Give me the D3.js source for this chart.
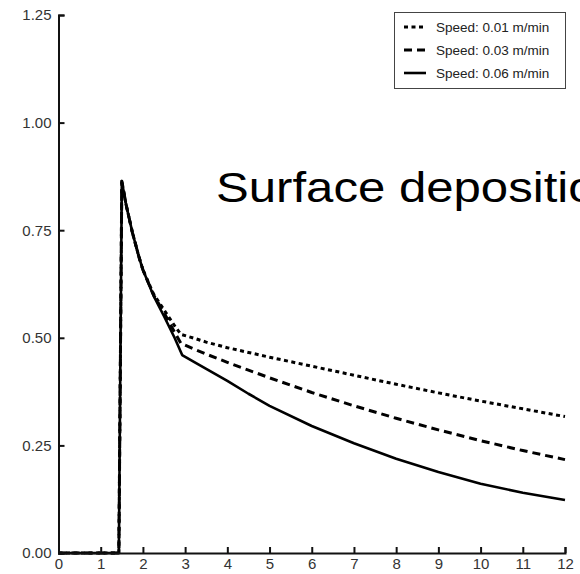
<!DOCTYPE html>
<html>
<head>
<meta charset="utf-8">
<script src="https://cdn.jsdelivr.net/npm/d3@7"></script>
<style>
  body { margin: 0; background: #fff; }
  svg { display: block; font-family: "Liberation Sans", Arial, sans-serif; }
</style>
</head>
<body>
<svg id="vis" width="580" height="574"></svg>
<script>
// data
const xDotted = [0, 1.43, 1.5, 1.6, 1.75, 1.9, 2.0, 2.25, 2.5, 2.75, 2.9, 3.25, 3.5, 4, 4.5, 5, 6, 7, 8, 9, 10, 11, 12];
const yDotted = [0, 0, 0.864, 0.81, 0.745, 0.69, 0.658, 0.602, 0.565, 0.528, 0.508, 0.498, 0.49, 0.477, 0.466, 0.455, 0.434, 0.413, 0.392, 0.372, 0.353, 0.335, 0.317];

const xDashed = [0, 1.43, 1.5, 1.6, 1.75, 1.9, 2.0, 2.25, 2.5, 2.75, 2.9, 3.25, 3.5, 4, 4.5, 5, 6, 7, 8, 9, 10, 11, 12];
const yDashed = [0, 0, 0.864, 0.81, 0.745, 0.69, 0.658, 0.6, 0.558, 0.513, 0.487, 0.472, 0.462, 0.443, 0.425, 0.407, 0.373, 0.342, 0.313, 0.286, 0.261, 0.238, 0.217];

const xSolid = [0, 1.43, 1.5, 1.6, 1.75, 1.9, 2.0, 2.25, 2.5, 2.75, 2.93, 3.25, 3.5, 4, 4.5, 5, 6, 7, 8, 9, 10, 11, 12];
const ySolid = [0, 0, 0.864, 0.81, 0.745, 0.69, 0.658, 0.598, 0.55, 0.5, 0.46, 0.442, 0.428, 0.4, 0.37, 0.342, 0.295, 0.255, 0.219, 0.188, 0.161, 0.14, 0.123];

const seriesNames = ["Speed: 0.01 m/min", "Speed: 0.03 m/min", "Speed: 0.06 m/min"];
const xTicks = [0, 1, 2, 3, 4, 5, 6, 7, 8, 9, 10, 11, 12];
const yTicks = [0, 0.25, 0.5, 0.75, 1.0, 1.25];
const titleText = "Surface deposition";

const svg = d3.select("#vis");

// SCALES
const x = d3.scaleLinear().domain([0, 12]).range([58.5, 565]);
const y = d3.scaleLinear().domain([0, 1.25]).range([553, 15]);

const styles = [
  { dash: "4,3.5", width: 3 },
  { dash: "8,5", width: 3 },
  { dash: null, width: 2.6 }
];

const series = [
  d3.zip(xDotted, yDotted),
  d3.zip(xDashed, yDashed),
  d3.zip(xSolid, ySolid)
];

// title (runs past the right edge, as in the picture)
svg.append("text")
  .attr("transform", "translate(216,202) scale(1.17,1)")
  .attr("font-size", 42)
  .attr("fill", "#000")
  .text(titleText);

const line = d3.line()
  .x(d => x(d[0]))
  .y(d => y(d[1]));

svg.selectAll("path.series")
  .data(series)
  .join("path")
  .attr("class", "series")
  .attr("d", line)
  .attr("fill", "none")
  .attr("stroke", "#000")
  .attr("stroke-linejoin", "round")
  .attr("stroke-width", (d, i) => styles[i].width)
  .attr("stroke-dasharray", (d, i) => styles[i].dash);

// axes - ticks point inward on both
const xAxis = d3.axisBottom(x).tickValues(xTicks).tickSize(-6).tickPadding(5).tickFormat(d3.format("d"));
const yAxis = d3.axisLeft(y).tickValues(yTicks).tickSize(-6).tickPadding(7).tickFormat(d3.format(".2f"));

const gx = svg.append("g")
  .attr("transform", `translate(0,${y(0)})`)
  .call(xAxis);

const gy = svg.append("g")
  .attr("transform", `translate(${x(0)},0)`)
  .call(yAxis);

[gx, gy].forEach(g => {
  g.select(".domain").attr("stroke", "#111").attr("stroke-width", 2);
  g.selectAll(".tick line").attr("stroke", "#111").attr("stroke-width", 2);
  g.selectAll(".tick text")
    .attr("font-size", 15)
    .attr("fill", "#333")
    .attr("font-family", "Liberation Sans, Arial, sans-serif");
});
gx.selectAll(".tick text").attr("dy", "0.71em");

// legend
const legend = svg.append("g");
legend.append("rect")
  .attr("x", 394.5).attr("y", 12.5)
  .attr("width", 171).attr("height", 76)
  .attr("fill", "#fff")
  .attr("stroke", "#444")
  .attr("stroke-width", 1);

const rows = legend.selectAll("g.row")
  .data(seriesNames)
  .join("g")
  .attr("class", "row")
  .attr("transform", (d, i) => `translate(0,${27 + i * 23})`);

rows.append("line")
  .attr("x1", 404).attr("x2", 426)
  .attr("y1", 0).attr("y2", 0)
  .attr("stroke", "#000")
  .attr("stroke-width", (d, i) => styles[i].width)
  .attr("stroke-dasharray", (d, i) => styles[i].dash);

rows.append("text")
  .attr("x", 436)
  .attr("y", 0)
  .attr("dy", "0.35em")
  .attr("font-size", 13.5)
  .attr("fill", "#222")
  .text(d => d);
</script>
</body>
</html>
